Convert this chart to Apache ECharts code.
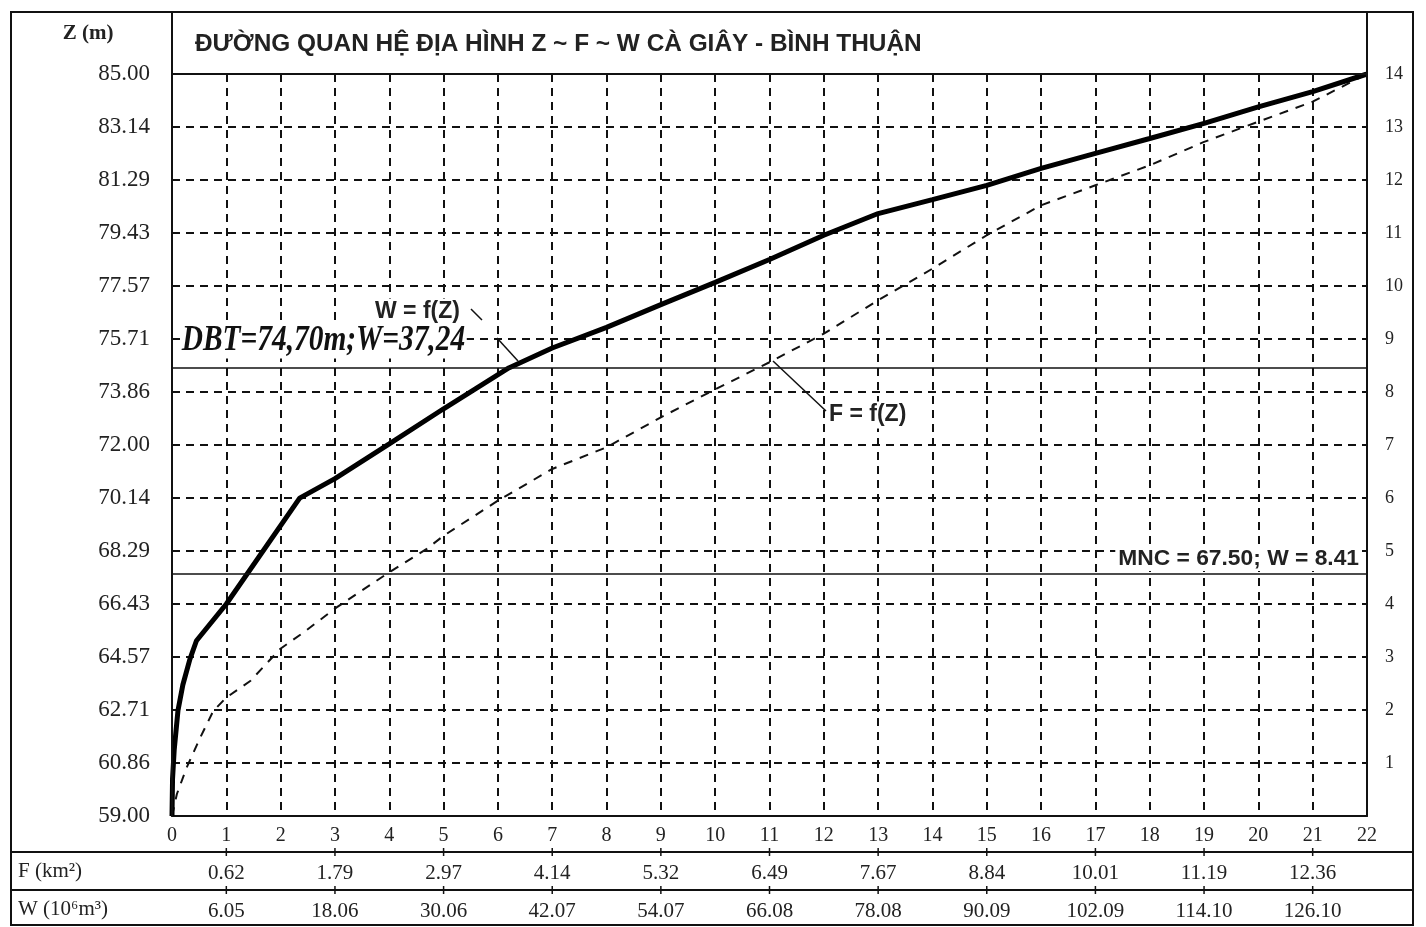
<!DOCTYPE html>
<html><head><meta charset="utf-8">
<script src="https://cdn.jsdelivr.net/npm/echarts@6/dist/echarts.min.js"></script>
<style>html,body{margin:0;padding:0;background:#fff}#c{width:1426px;height:927px}</style>
</head><body><div id="c"></div>
<script>
// ---- data ----
const titleText = 'ĐƯỜNG QUAN HỆ ĐỊA HÌNH Z ~ F ~ W CÀ GIÂY - BÌNH THUẬN';
const zTickLabels = ['59.00','60.86','62.71','64.57','66.43','68.29','70.14','72.00','73.86','75.71','77.57','79.43','81.29','83.14','85.00'];
const rightTickLabels = ['','1','2','3','4','5','6','7','8','9','10','11','12','13','14'];
// W = f(Z): [x-scale unit, Z]
const wCurve = [[0,59],[0.01,60.3],[0.04,61.3],[0.11,62.7],[0.2,63.6],[0.33,64.5],[0.45,65.14],[1.0,66.43],[2.35,70.14],[3,70.82],[4,72.04],[5,73.27],[6.2,74.7],[7,75.4],[8,76.12],[9,76.92],[10,77.7],[11,78.5],[12,79.35],[13,80.11],[14,80.6],[15,81.1],[16,81.69],[17,82.22],[18,82.74],[19,83.27],[20,83.85],[21,84.38],[22,85]];
// F = f(Z)
const fCurve = [[0,59],[0.09,59.77],[0.27,60.7],[0.52,61.75],[0.76,62.68],[1.0,63.15],[1.44,63.73],[1.99,64.85],[2.42,65.43],[3.03,66.31],[4,67.54],[4.69,68.36],[5,68.82],[6,70.05],[7,71.16],[8,71.92],[9,72.97],[10,73.95],[11,74.9],[12,75.9],[13,77.07],[14,78.18],[15,79.35],[16,80.4],[17,81.1],[18,81.8],[19,82.62],[20,83.33],[21,84.03],[22,85]];
const tableCols = [1,3,5,7,9,11,13,15,17,19,21];
const fLabels = ['0.62','1.79','2.97','4.14','5.32','6.49','7.67','8.84','10.01','11.19','12.36'];
const wLabels = ['6.05','18.06','30.06','42.07','54.07','66.08','78.08','90.09','102.09','114.10','126.10'];
const dbtZ = 74.70, mncZ = 67.50;
const dbtText = 'DBT=74,70m;W=37,24';
const mncText = 'MNC = 67.50; W = 8.41';

// ---- chart ----
const SERIF = '"Liberation Serif","DejaVu Serif",serif';
const SANS = '"Liberation Sans",Arial,sans-serif';
const chart = echarts.init(document.getElementById('c'), null, {renderer:'canvas'});
const gridDash = {color:'#111', width:2, type:[8,6]};
chart.setOption({
  animation:false,
  backgroundColor:'#fff',
  grid:{left:172, right:59, top:74, bottom:111},
  xAxis:{type:'value', min:0, max:22, interval:1,
    axisLine:{show:true, lineStyle:{color:'#111', width:2}},
    axisTick:{show:false},
    axisLabel:{fontFamily:SERIF, fontSize:20, color:'#222', margin:10},
    splitLine:{show:true, lineStyle:gridDash}},
  yAxis:[
    {type:'value', min:59, max:85, show:false, splitLine:{show:false}},
    {type:'value', min:0, max:14, interval:1, position:'left',
      axisLine:{show:true, lineStyle:{color:'#111', width:2}}, axisTick:{show:false},
      axisLabel:{fontFamily:SERIF, fontSize:23, color:'#222', margin:22, formatter:v=>zTickLabels[v]},
      splitLine:{show:true, lineStyle:gridDash}},
    {type:'value', min:0, max:14, interval:1, position:'right',
      axisLine:{show:true, lineStyle:{color:'#111', width:2}}, axisTick:{show:false},
      axisLabel:{fontFamily:SERIF, fontSize:18, color:'#222', margin:18, formatter:v=>rightTickLabels[v]},
      splitLine:{show:false}}
  ],
  series:[
    {type:'line', name:'F = f(Z)', yAxisIndex:0, data:fCurve, symbol:'none',
      lineStyle:{color:'#111', width:2, type:[9,8]}, z:3},
    {type:'line', name:'W = f(Z)', yAxisIndex:0, data:wCurve, symbol:'none',
      lineStyle:{color:'#000', width:5}, z:4,
      markLine:{silent:true, symbol:'none', label:{show:false},
        lineStyle:{color:'#111', width:1.6, type:'solid'},
        data:[{yAxis:dbtZ},{yAxis:mncZ}]}}
  ]
});

const g = [];
const line = (x1,y1,x2,y2,w)=>g.push({type:'line', shape:{x1,y1,x2,y2}, style:{stroke:'#111', lineWidth:w||2}, z:12});
// frame
g.push({type:'rect', shape:{x:11,y:12,width:1402,height:913}, style:{fill:null, stroke:'#111', lineWidth:2}, z:10});
line(172,12,172,816); line(1367,12,1367,816); line(172,74,1367,74,2);
line(11,852,1413,852,2); line(11,890,1413,890,2);
// table
tableCols.forEach((c,i)=>{
  const px = chart.convertToPixel({xAxisIndex:0}, c);
  line(px,848,px,856,1.5); line(px,886,px,894,1.5);
  g.push({type:'text', x:px, y:873, style:{text:fLabels[i], font:'21px '+SERIF, fill:'#222', align:'center', verticalAlign:'middle'}, z:10});
  g.push({type:'text', x:px, y:911, style:{text:wLabels[i], font:'21px '+SERIF, fill:'#222', align:'center', verticalAlign:'middle'}, z:10});
});
g.push({type:'text', x:18, y:871, style:{text:'F (km²)', font:'21px '+SERIF, fill:'#222', verticalAlign:'middle'}, z:10});
g.push({type:'text', x:18, y:909, style:{text:'W (10⁶m³)', font:'21px '+SERIF, fill:'#222', verticalAlign:'middle'}, z:10});
// axis title
g.push({type:'text', x:88, y:34, style:{text:'Z (m)', font:'bold 21px '+SERIF, fill:'#222', align:'center', verticalAlign:'middle'}, z:10});
// chart title
g.push({type:'text', x:195, y:44, style:{text:titleText, font:'bold 24.4px '+SANS, fill:'#222', verticalAlign:'middle'}, z:10});
// annotations
const bg = {backgroundColor:'#fff', padding:[2,3,2,3]};
g.push({type:'text', x:372, y:312, style:Object.assign({text:'W = f(Z)', font:'bold 23px '+SANS, fill:'#222', verticalAlign:'middle'}, bg), z:11});
line(471,309,482,320,1.5); line(497,338,518,361,1.5);
g.push({type:'text', x:180, y:341, scaleX:0.84, originX:0, originY:0,
  style:{text:dbtText, font:'italic bold 35px '+SERIF, fill:'#111', verticalAlign:'middle', backgroundColor:'#fff', padding:[0,2,0,2]}, z:11});
g.push({type:'text', x:826, y:415, style:Object.assign({text:'F = f(Z)', font:'bold 23px '+SANS, fill:'#222', verticalAlign:'middle'}, bg), z:11});
line(773,361,826,411,1.5);
g.push({type:'text', x:1362, y:559, style:{text:mncText, font:'bold 22.8px '+SANS, fill:'#222', align:'right', verticalAlign:'middle', backgroundColor:'#fff', padding:[1,3,0,3]}, z:11});
chart.setOption({graphic:g});
</script></body></html>
